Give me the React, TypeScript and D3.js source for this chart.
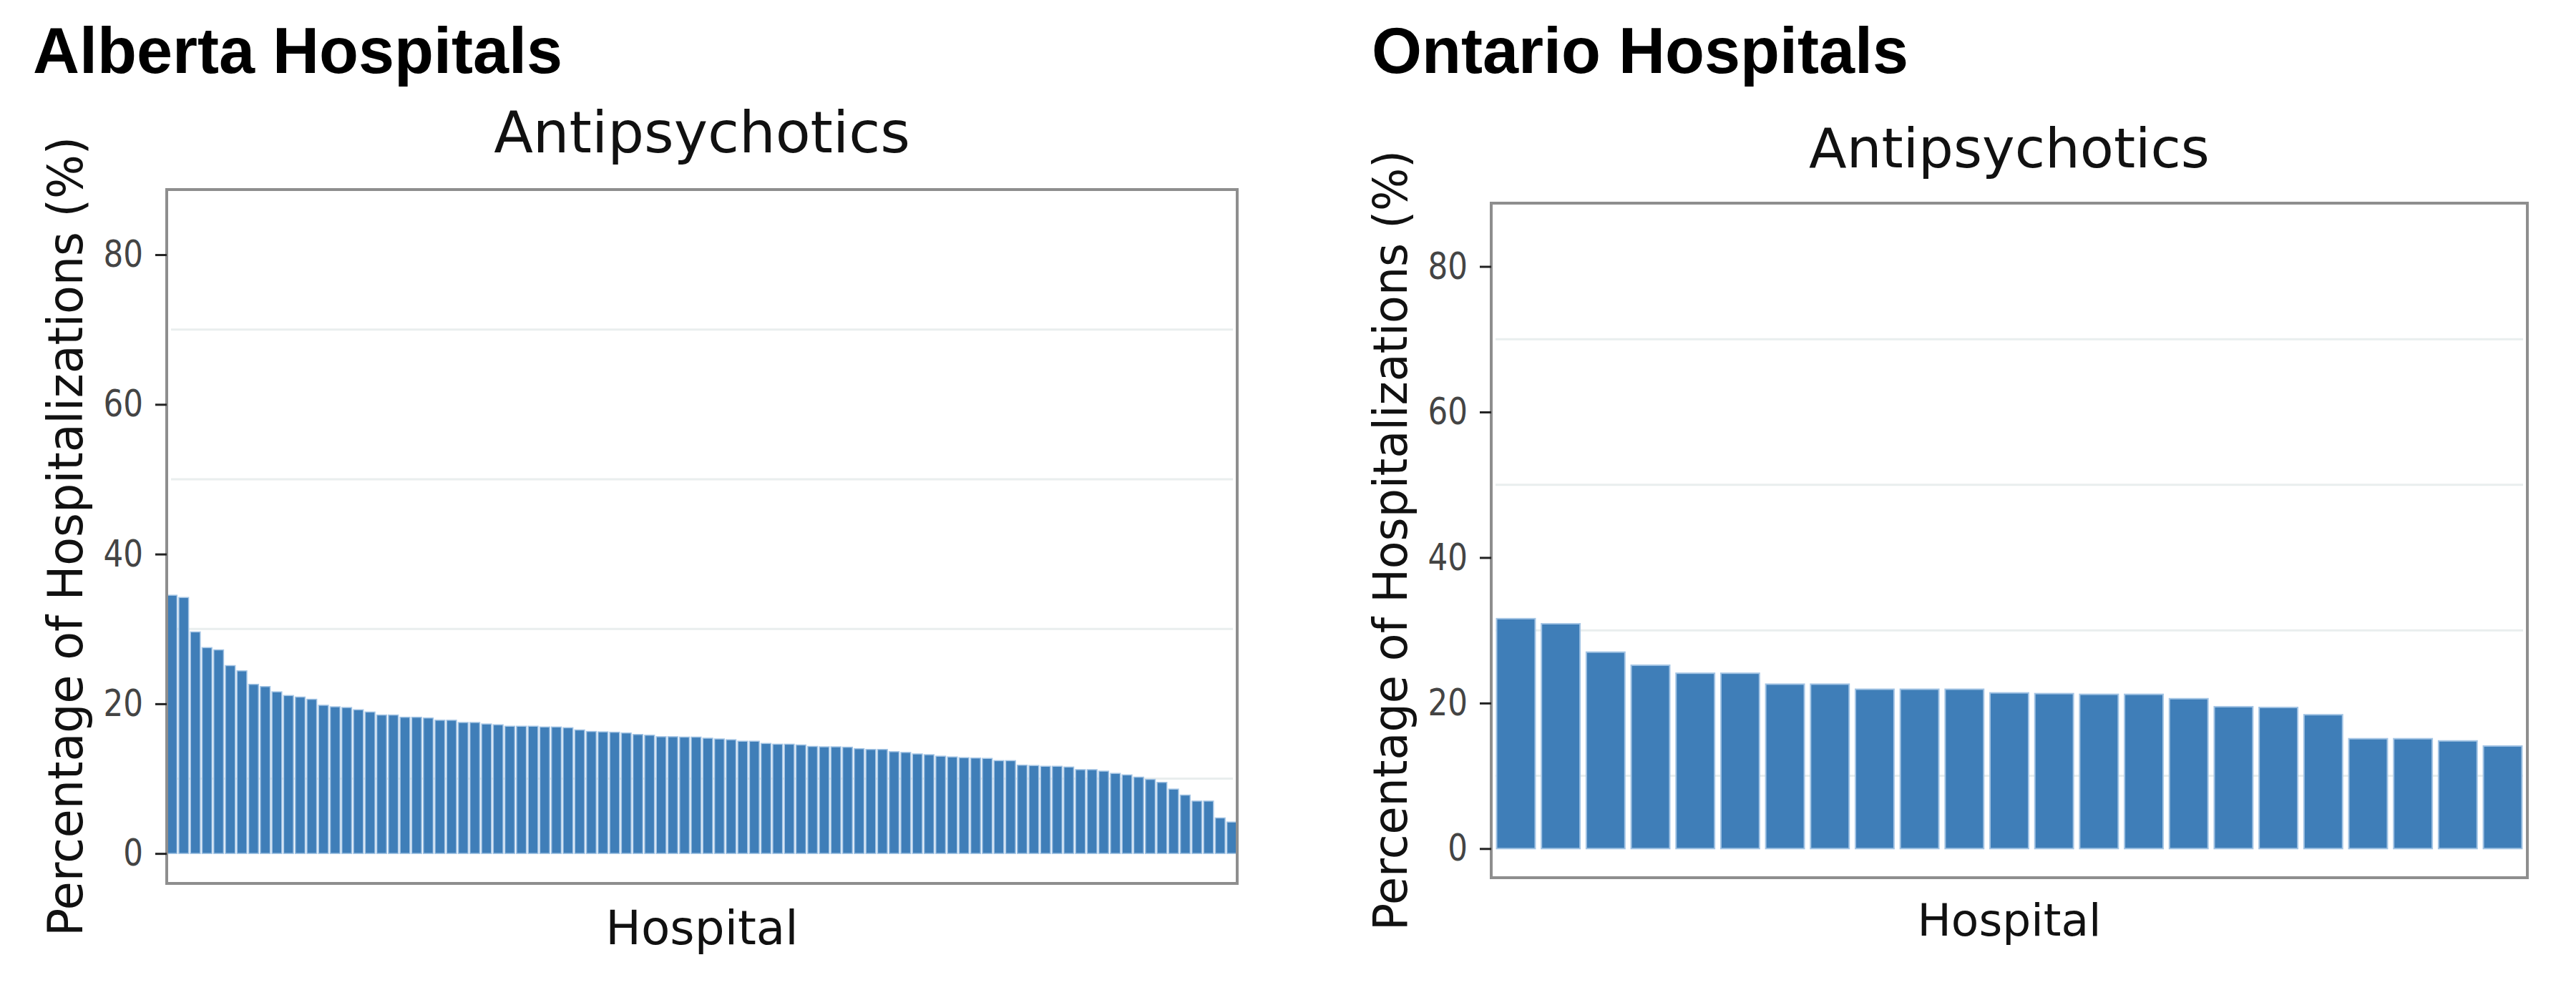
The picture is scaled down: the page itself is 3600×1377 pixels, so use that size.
import * as d3 from "d3";
import React, {useRef, useEffect} from "react";

// share of hospitalizations with antipsychotics, one value per hospital, sorted high to low
const albertaRates = [
    34.5, 34.2, 29.6, 27.5, 27.2, 25.1, 24.4, 22.6, 22.3, 21.6,
    21.1, 20.9, 20.6, 19.8, 19.6, 19.5, 19.2, 18.9, 18.5, 18.5,
    18.2, 18.2, 18.1, 17.8, 17.8, 17.5, 17.5, 17.3, 17.2, 17.0,
    17.0, 17.0, 16.9, 16.9, 16.8, 16.5, 16.3, 16.25, 16.2, 16.1,
    15.9, 15.8, 15.6, 15.6, 15.55, 15.55, 15.4, 15.3, 15.2, 15.0,
    15.0, 14.7, 14.6, 14.6, 14.5, 14.3, 14.25, 14.25, 14.2, 14.0,
    13.9, 13.9, 13.6, 13.5, 13.3, 13.2, 13.0, 12.9, 12.8, 12.75,
    12.7, 12.4, 12.4, 11.8, 11.75, 11.65, 11.65, 11.55, 11.2, 11.2,
    11.0, 10.7, 10.5, 10.2, 9.9, 9.5, 8.6, 7.8, 7.0, 7.0,
    4.75, 4.2
];

const ontarioRates = [
    31.6, 30.9, 27.0, 25.2, 24.1, 24.1, 22.6, 22.6, 21.9, 21.9,
    21.9, 21.4, 21.3, 21.2, 21.2, 20.6, 19.5, 19.4, 18.4, 15.1,
    15.1, 14.8, 14.1
];

const yTickValues = [0, 20, 40, 60, 80];
const gridValues = [10, 30, 50, 70];
const yDomain = [-4, 88.7];

const chartFont = "'DejaVu Sans', Verdana, sans-serif";
const headingFont = "'Liberation Sans', Arial, sans-serif";

function HospitalBars(props) {

    const ref = useRef();

    useEffect(() => {

        const g = d3.select(ref.current);
        g.selectAll("*").remove();

        const {left, right, top, bottom} = props.frame;
        const midX = (left + right) / 2;
        const midY = (top + bottom) / 2;

        const x = d3.scaleBand()
            .domain(props.data.map((d, i) => i))
            .range([left, right])
            .paddingInner(props.padInner)
            .paddingOuter(props.padOuter);

        const y = d3.scaleLinear()
            .domain(yDomain)
            .range([bottom, top]);

        g.append("text")
            .attr("x", props.headingX)
            .attr("y", 102)
            .attr("font-family", headingFont)
            .attr("font-weight", 700)
            .attr("font-size", 90)
            .attr("fill", "#000")
            .text(props.heading);

        g.append("text")
            .attr("x", midX)
            .attr("y", props.titleY)
            .attr("text-anchor", "middle")
            .attr("font-family", chartFont)
            .attr("font-size", props.titleSize)
            .attr("fill", "#111")
            .text("Antipsychotics");

        // faint horizontal guides between the labelled ticks
        g.selectAll(".grid")
            .data(gridValues)
            .enter()
            .append("line")
            .attr("class", "grid")
            .attr("x1", left + 6)
            .attr("x2", right - 6)
            .attr("y1", d => y(d))
            .attr("y2", d => y(d))
            .attr("stroke", "#e9eeee")
            .attr("stroke-width", 3);

        g.selectAll(".bar")
            .data(props.data)
            .enter()
            .append("rect")
            .attr("class", "bar")
            .attr("x", (d, i) => x(i))
            .attr("width", x.bandwidth())
            .attr("y", d => y(d))
            .attr("height", d => y(0) - y(d))
            .attr("fill", "#3f7eb8")
            .attr("stroke", "#a3c4e4")
            .attr("stroke-width", props.edge);

        g.append("rect")
            .attr("x", left)
            .attr("y", top)
            .attr("width", right - left)
            .attr("height", bottom - top)
            .attr("fill", "none")
            .attr("stroke", "#8e8e8e")
            .attr("stroke-width", 4);

        const yAxis = d3.axisLeft(y)
            .tickValues(yTickValues)
            .tickSize(16)
            .tickFormat(d3.format("d"));

        const axisG = g.append("g")
            .attr("transform", `translate(${left},0)`)
            .call(yAxis);

        axisG.select(".domain").remove();
        axisG.selectAll("line")
            .attr("stroke", "#222")
            .attr("stroke-width", 3);
        // digits are drawn a little narrow
        axisG.selectAll("text")
            .attr("x", -33 / 0.84)
            .attr("transform", "scale(0.84,1)")
            .attr("font-family", chartFont)
            .attr("font-size", 52)
            .attr("fill", "#444");

        g.append("text")
            .attr("transform", `translate(${props.yLabelX},${midY}) rotate(-90)`)
            .attr("text-anchor", "middle")
            .attr("font-family", chartFont)
            .attr("font-size", props.yLabelSize)
            .attr("textLength", props.yLabelLength)
            .attr("lengthAdjust", "spacingAndGlyphs")
            .attr("fill", "#111")
            .text("Percentage of Hospitalizations (%)");

        g.append("text")
            .attr("x", midX)
            .attr("y", props.xLabelY)
            .attr("text-anchor", "middle")
            .attr("font-family", chartFont)
            .attr("font-size", props.xLabelSize)
            .attr("fill", "#111")
            .text("Hospital");

    }, [])

    return <g ref={ref} />
}

export default function App() {
    return (
        <svg width={3600} height={1377} viewBox="0 0 3600 1377"
            style={{position: "absolute", left: 0, top: 0, background: "#fff"}}>
            <HospitalBars
                data={albertaRates}
                heading="Alberta Hospitals"
                headingX={46}
                frame={{left: 233, right: 1729, top: 265, bottom: 1235}}
                padInner={0.16}
                padOuter={0.04}
                edge={1.5}
                titleY={213}
                titleSize={80}
                xLabelY={1320}
                xLabelSize={66}
                yLabelX={115}
                yLabelSize={68}
                yLabelLength={1118}
            />
            <HospitalBars
                data={ontarioRates}
                heading="Ontario Hospitals"
                headingX={1917}
                frame={{left: 2084, right: 3532, top: 284, bottom: 1227}}
                padInner={0.14}
                padOuter={0.12}
                edge={2}
                titleY={234}
                titleSize={77}
                xLabelY={1308}
                xLabelSize={63}
                yLabelX={1966}
                yLabelSize={66}
                yLabelLength={1091}
            />
        </svg>
    )
}
